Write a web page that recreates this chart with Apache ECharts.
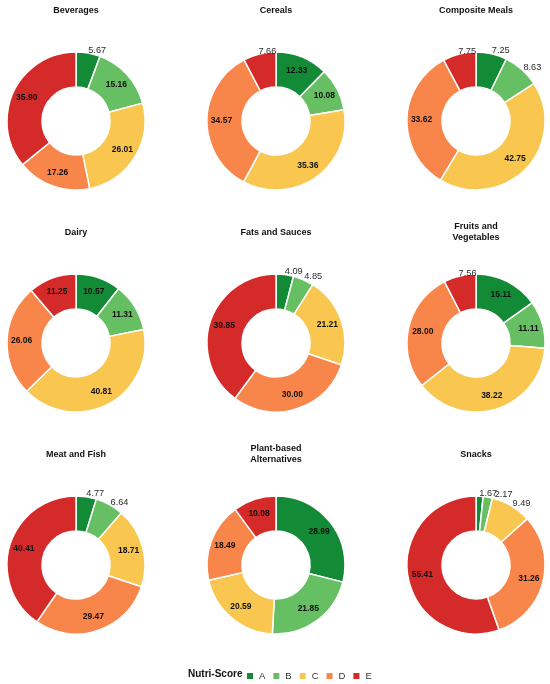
<!DOCTYPE html>
<html>
<head>
<meta charset="utf-8">
<script src="https://cdn.jsdelivr.net/npm/echarts@6/dist/echarts.min.js"></script>
<style>
  html, body { margin: 0; padding: 0; background: #fff; }
  #main { width: 550px; height: 684px; }
</style>
</head>
<body>
<div id="main"></div>
<script>
// Nutri-Score share (%) per food group, order A..E
var grades = ['A', 'B', 'C', 'D', 'E'];
var groups = ['Beverages', 'Cereals', 'Composite Meals', 'Dairy', 'Fats and Sauces',
              'Fruits and\nVegetables', 'Meat and Fish', 'Plant-based\nAlternatives', 'Snacks'];

var beverages   = [5.67, 15.16, 26.01, 17.26, 35.90];
var cereals     = [12.33, 10.08, 35.36, 34.57, 7.66];
var composite   = [7.25, 8.63, 42.75, 33.62, 7.75];
var dairy       = [10.57, 11.31, 40.81, 26.06, 11.25];
var fats        = [4.09, 4.85, 21.21, 30.00, 39.85];
var fruitsVeg   = [15.11, 11.11, 38.22, 28.00, 7.56];
var meatFish    = [4.77, 6.64, 18.71, 29.47, 40.41];
var plantBased  = [28.99, 21.85, 20.59, 18.49, 10.08];
var snacks      = [1.67, 2.17, 9.49, 31.26, 55.41];

var groupValues = [beverages, cereals, composite, dairy, fats, fruitsVeg, meatFish, plantBased, snacks];
var colors = ['#138a36', '#66bf63', '#f9c650', '#f8854a', '#d52a2a'];

var colX = [76, 276, 476];
var rowY = [121, 343, 565];
var titleTop = [5, 227, 449];
var SMALL = 10;     // slices under this get their number outside the ring
var LABEL_R = 69;   // where the outside numbers start
var LABEL_W = 15;   // rough width of an outside number

var myChart = echarts.init(document.getElementById('main'));

// small labels: left edge at the slice mid-angle; push right if it runs into the previous one
function smallLabelPads(vals) {
  var total = vals.reduce(function (a, b) { return a + b; }, 0);
  var cum = 0, prevRight = null, pads = [];
  vals.forEach(function (v) {
    var mid = (cum + v / 2) / total * 2 * Math.PI;
    cum += v;
    if (v >= SMALL) { prevRight = null; pads.push(17); return; }
    var ax = LABEL_R * Math.sin(mid);
    var shift = prevRight !== null ? Math.max(0, prevRight - ax) : 0;
    prevRight = ax + shift + LABEL_W;
    pads.push(17 + 2 * shift);
  });
  return pads;
}

var titles = [];
var series = [];
groups.forEach(function (g, i) {
  var c = i % 3, r = Math.floor(i / 3);
  var twoLine = g.indexOf('\n') >= 0;
  var pads = smallLabelPads(groupValues[i]);
  titles.push({
    text: g,
    left: colX[c],
    top: twoLine ? titleTop[r] - 6 : titleTop[r],
    padding: 0,
    textAlign: 'center',
    textStyle: { fontFamily: 'Liberation Sans', fontSize: 9, fontWeight: 'bold', color: '#111', lineHeight: 11 }
  });
  // the ring with the big numbers inside
  series.push({
    name: g,
    type: 'pie',
    center: [colX[c], rowY[r]],
    radius: [34, 69],
    startAngle: 90,
    clockwise: true,
    silent: true,
    itemStyle: { borderColor: '#fff', borderWidth: 1.5 },
    data: groupValues[i].map(function (v, k) {
      return { name: grades[k], value: v, label: { show: v >= SMALL } };
    }),
    label: {
      show: true,
      position: 'inside',
      fontFamily: 'Liberation Sans',
      fontSize: 8.5,
      fontWeight: 'bold',
      color: '#111',
      formatter: function (p) { return p.value.toFixed(2); }
    },
    labelLine: { show: false }
  });
  // transparent thin ring just outside, carrying the small numbers
  series.push({
    name: g + ' small',
    type: 'pie',
    center: [colX[c], rowY[r]],
    radius: [LABEL_R - 2, LABEL_R + 2],
    startAngle: 90,
    clockwise: true,
    silent: true,
    minShowLabelAngle: 0,
    labelLayout: { hideOverlap: false },
    itemStyle: { color: 'rgba(0,0,0,0)' },
    data: groupValues[i].map(function (v, k) {
      return {
        name: grades[k],
        value: v,
        label: { show: v < SMALL, padding: [0, 0, 7, pads[k]] }
      };
    }),
    label: {
      show: true,
      position: 'inside',
      fontFamily: 'Liberation Sans',
      fontSize: 9.2,
      color: '#2b2b2b',
      overflow: 'none',
      formatter: function (p) { return p.value.toFixed(2); }
    },
    labelLine: { show: false }
  });
});

titles.push({
  text: 'Nutri-Score',
  left: 188,
  top: 669,
  padding: 0,
  textStyle: { fontFamily: 'Liberation Sans', fontSize: 10, fontWeight: 'bold', color: '#111' }
});

myChart.setOption({
  animation: false,
  color: colors,
  title: titles,
  legend: {
    data: grades,
    left: 245,
    top: 671,
    padding: 0,
    icon: 'rect',
    itemWidth: 8,
    itemHeight: 8,
    itemGap: 6,
    selectedMode: false,
    textStyle: { fontFamily: 'Liberation Sans', fontSize: 9.5, color: '#333' }
  },
  series: series
});
</script>
</body>
</html>
